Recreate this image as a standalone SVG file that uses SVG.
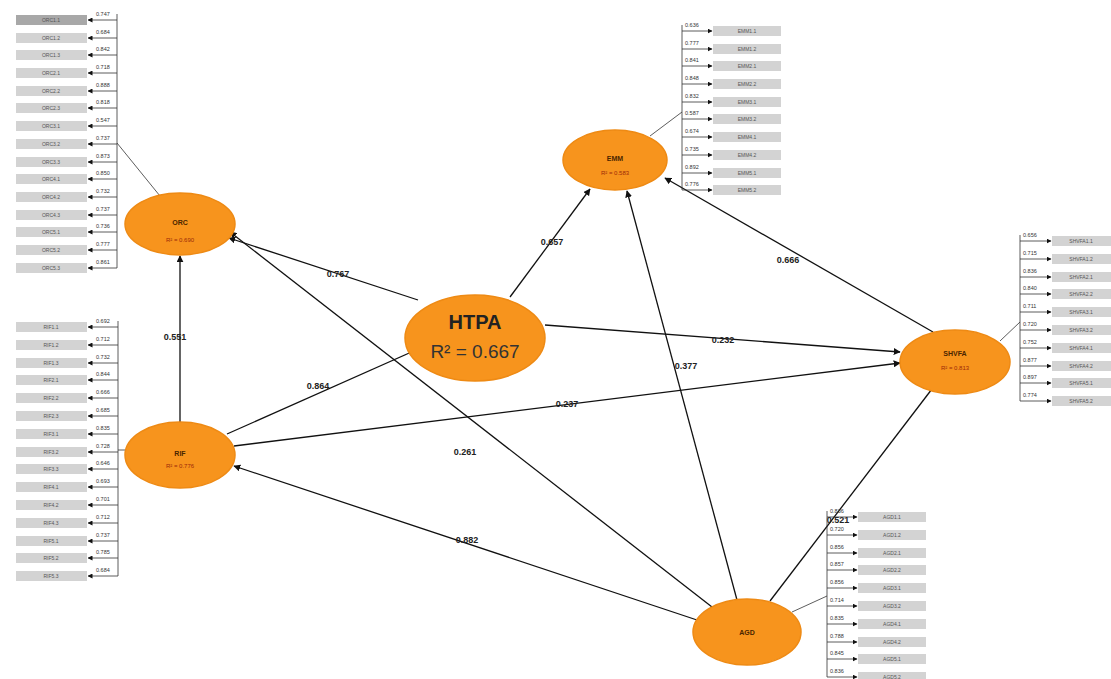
<svg xmlns="http://www.w3.org/2000/svg" width="1111" height="679" viewBox="0 0 1111 679">
<defs>
<marker id="ah" viewBox="0 0 10 10" refX="9" refY="5" markerWidth="7" markerHeight="7" orient="auto" markerUnits="userSpaceOnUse"><path d="M0,0 L10,5 L0,10 z" fill="#111"/></marker>
<marker id="as" viewBox="0 0 10 10" refX="9" refY="5" markerWidth="5" markerHeight="5" orient="auto" markerUnits="userSpaceOnUse"><path d="M0,0 L10,5 L0,10 z" fill="#111"/></marker>
<style>
.lv{fill:#f7941d;stroke:#ee8a14;stroke-width:1.5}
.box{fill:#d3d3d3}
.sel{fill:#a8a8a8}
.it{font-family:"Liberation Sans",Arial,sans-serif;font-size:5px;fill:#555;text-anchor:middle}
.v{font-family:"Liberation Sans",Arial,sans-serif;font-size:5.5px;fill:#333}
.br{stroke:#333;stroke-width:0.8;fill:none}
.ia{stroke:#333;stroke-width:0.8;fill:none;marker-end:url(#as)}
.pa{stroke:#111;stroke-width:1.3;fill:none;marker-end:url(#ah)}
.pl{font-family:"Liberation Sans",Arial,sans-serif;font-size:9px;font-weight:bold;fill:#222;text-anchor:middle}
.ln{font-family:"Liberation Sans",Arial,sans-serif;font-size:7px;font-weight:bold;fill:#4a2500;text-anchor:middle}
.lr{font-family:"Liberation Sans",Arial,sans-serif;font-size:6px;fill:#9c2a08;text-anchor:middle}
</style>
</defs>
<rect width="1111" height="679" fill="#ffffff"/>

<g id="connectors">
<path class="pa" d="M418,300 L229,238"/>
<path class="pa" d="M180,422 L180,256"/>
<path class="pa" d="M227,434 L416,350"/>
<path class="pa" d="M712,607 L230,232"/>
<path class="pa" d="M697,620 L234,466"/>
<path class="pa" d="M737,600 L627,191"/>
<path class="pa" d="M770,601 L935,385"/>
<path class="pa" d="M510,297 L590,189"/>
<path class="pa" d="M545,325 L900,352"/>
<path class="pa" d="M234,446 L900,363"/>
<path class="pa" d="M933,332 L665,178"/>
<text class="pl" x="338" y="277">0.767</text>
<text class="pl" x="175" y="340">0.551</text>
<text class="pl" x="318" y="389">0.864</text>
<text class="pl" x="465" y="455">0.261</text>
<text class="pl" x="467" y="543">0.882</text>
<text class="pl" x="686" y="369">0.377</text>
<text class="pl" x="838" y="523">0.521</text>
<text class="pl" x="552" y="245">0.657</text>
<text class="pl" x="723" y="343">0.232</text>
<text class="pl" x="567" y="407">0.237</text>
<text class="pl" x="788" y="263">0.666</text>
<path class="br" d="M117,143 L160,196"/>
<path class="br" d="M118,450 L126,450"/>
<path class="br" d="M682,112 L650,136"/>
<path class="br" d="M1020,322 L1000,341"/>
<path class="br" d="M827,596 L792,612"/>
</g>

<g id="ORC-indicators">
<path class="br" d="M117,14 V268"/>
<g><rect class="sel" x="16" y="15" width="71" height="10"/><text class="it" x="51" y="22">ORC1.1</text><path class="ia" d="M117,20 H88"/><text class="v" x="96" y="16">0.747</text></g>
<g><rect class="box" x="16" y="33" width="71" height="10"/><text class="it" x="51" y="40">ORC1.2</text><path class="ia" d="M117,38 H88"/><text class="v" x="96" y="34">0.684</text></g>
<g><rect class="box" x="16" y="50" width="71" height="10"/><text class="it" x="51" y="57">ORC1.3</text><path class="ia" d="M117,55 H88"/><text class="v" x="96" y="51">0.842</text></g>
<g><rect class="box" x="16" y="68" width="71" height="10"/><text class="it" x="51" y="75">ORC2.1</text><path class="ia" d="M117,73 H88"/><text class="v" x="96" y="69">0.718</text></g>
<g><rect class="box" x="16" y="86" width="71" height="10"/><text class="it" x="51" y="93">ORC2.2</text><path class="ia" d="M117,91 H88"/><text class="v" x="96" y="87">0.888</text></g>
<g><rect class="box" x="16" y="103" width="71" height="10"/><text class="it" x="51" y="110">ORC2.3</text><path class="ia" d="M117,108 H88"/><text class="v" x="96" y="104">0.818</text></g>
<g><rect class="box" x="16" y="121" width="71" height="10"/><text class="it" x="51" y="128">ORC3.1</text><path class="ia" d="M117,126 H88"/><text class="v" x="96" y="122">0.547</text></g>
<g><rect class="box" x="16" y="139" width="71" height="10"/><text class="it" x="51" y="146">ORC3.2</text><path class="ia" d="M117,144 H88"/><text class="v" x="96" y="140">0.737</text></g>
<g><rect class="box" x="16" y="157" width="71" height="10"/><text class="it" x="51" y="164">ORC3.3</text><path class="ia" d="M117,162 H88"/><text class="v" x="96" y="158">0.873</text></g>
<g><rect class="box" x="16" y="174" width="71" height="10"/><text class="it" x="51" y="181">ORC4.1</text><path class="ia" d="M117,179 H88"/><text class="v" x="96" y="175">0.850</text></g>
<g><rect class="box" x="16" y="192" width="71" height="10"/><text class="it" x="51" y="199">ORC4.2</text><path class="ia" d="M117,197 H88"/><text class="v" x="96" y="193">0.732</text></g>
<g><rect class="box" x="16" y="210" width="71" height="10"/><text class="it" x="51" y="217">ORC4.3</text><path class="ia" d="M117,215 H88"/><text class="v" x="96" y="211">0.737</text></g>
<g><rect class="box" x="16" y="227" width="71" height="10"/><text class="it" x="51" y="234">ORC5.1</text><path class="ia" d="M117,232 H88"/><text class="v" x="96" y="228">0.736</text></g>
<g><rect class="box" x="16" y="245" width="71" height="10"/><text class="it" x="51" y="252">ORC5.2</text><path class="ia" d="M117,250 H88"/><text class="v" x="96" y="246">0.777</text></g>
<g><rect class="box" x="16" y="263" width="71" height="10"/><text class="it" x="51" y="270">ORC5.3</text><path class="ia" d="M117,268 H88"/><text class="v" x="96" y="264">0.861</text></g>
</g>

<g id="RIF-indicators">
<path class="br" d="M118,321 V576"/>
<g><rect class="box" x="16" y="322" width="71" height="10"/><text class="it" x="51" y="329">RIF1.1</text><path class="ia" d="M118,327 H88"/><text class="v" x="96" y="323">0.692</text></g>
<g><rect class="box" x="16" y="340" width="71" height="10"/><text class="it" x="51" y="347">RIF1.2</text><path class="ia" d="M118,345 H88"/><text class="v" x="96" y="341">0.712</text></g>
<g><rect class="box" x="16" y="358" width="71" height="10"/><text class="it" x="51" y="365">RIF1.3</text><path class="ia" d="M118,363 H88"/><text class="v" x="96" y="359">0.732</text></g>
<g><rect class="box" x="16" y="375" width="71" height="10"/><text class="it" x="51" y="382">RIF2.1</text><path class="ia" d="M118,380 H88"/><text class="v" x="96" y="376">0.844</text></g>
<g><rect class="box" x="16" y="393" width="71" height="10"/><text class="it" x="51" y="400">RIF2.2</text><path class="ia" d="M118,398 H88"/><text class="v" x="96" y="394">0.666</text></g>
<g><rect class="box" x="16" y="411" width="71" height="10"/><text class="it" x="51" y="418">RIF2.3</text><path class="ia" d="M118,416 H88"/><text class="v" x="96" y="412">0.685</text></g>
<g><rect class="box" x="16" y="429" width="71" height="10"/><text class="it" x="51" y="436">RIF3.1</text><path class="ia" d="M118,434 H88"/><text class="v" x="96" y="430">0.835</text></g>
<g><rect class="box" x="16" y="447" width="71" height="10"/><text class="it" x="51" y="454">RIF3.2</text><path class="ia" d="M118,452 H88"/><text class="v" x="96" y="448">0.728</text></g>
<g><rect class="box" x="16" y="464" width="71" height="10"/><text class="it" x="51" y="471">RIF3.3</text><path class="ia" d="M118,469 H88"/><text class="v" x="96" y="465">0.646</text></g>
<g><rect class="box" x="16" y="482" width="71" height="10"/><text class="it" x="51" y="489">RIF4.1</text><path class="ia" d="M118,487 H88"/><text class="v" x="96" y="483">0.693</text></g>
<g><rect class="box" x="16" y="500" width="71" height="10"/><text class="it" x="51" y="507">RIF4.2</text><path class="ia" d="M118,505 H88"/><text class="v" x="96" y="501">0.701</text></g>
<g><rect class="box" x="16" y="518" width="71" height="10"/><text class="it" x="51" y="525">RIF4.3</text><path class="ia" d="M118,523 H88"/><text class="v" x="96" y="519">0.712</text></g>
<g><rect class="box" x="16" y="536" width="71" height="10"/><text class="it" x="51" y="543">RIF5.1</text><path class="ia" d="M118,541 H88"/><text class="v" x="96" y="537">0.737</text></g>
<g><rect class="box" x="16" y="553" width="71" height="10"/><text class="it" x="51" y="560">RIF5.2</text><path class="ia" d="M118,558 H88"/><text class="v" x="96" y="554">0.785</text></g>
<g><rect class="box" x="16" y="571" width="71" height="10"/><text class="it" x="51" y="578">RIF5.3</text><path class="ia" d="M118,576 H88"/><text class="v" x="96" y="572">0.684</text></g>
</g>

<g id="EMM-indicators">
<path class="br" d="M682,25 V190"/>
<g><rect class="box" x="713" y="26" width="68" height="10"/><text class="it" x="747" y="33">EMM1.1</text><path class="ia" d="M682,31 H712"/><text class="v" x="685" y="27">0.636</text></g>
<g><rect class="box" x="713" y="44" width="68" height="10"/><text class="it" x="747" y="51">EMM1.2</text><path class="ia" d="M682,49 H712"/><text class="v" x="685" y="45">0.777</text></g>
<g><rect class="box" x="713" y="61" width="68" height="10"/><text class="it" x="747" y="68">EMM2.1</text><path class="ia" d="M682,66 H712"/><text class="v" x="685" y="62">0.841</text></g>
<g><rect class="box" x="713" y="79" width="68" height="10"/><text class="it" x="747" y="86">EMM2.2</text><path class="ia" d="M682,84 H712"/><text class="v" x="685" y="80">0.848</text></g>
<g><rect class="box" x="713" y="97" width="68" height="10"/><text class="it" x="747" y="104">EMM3.1</text><path class="ia" d="M682,102 H712"/><text class="v" x="685" y="98">0.832</text></g>
<g><rect class="box" x="713" y="114" width="68" height="10"/><text class="it" x="747" y="121">EMM3.2</text><path class="ia" d="M682,119 H712"/><text class="v" x="685" y="115">0.587</text></g>
<g><rect class="box" x="713" y="132" width="68" height="10"/><text class="it" x="747" y="139">EMM4.1</text><path class="ia" d="M682,137 H712"/><text class="v" x="685" y="133">0.674</text></g>
<g><rect class="box" x="713" y="150" width="68" height="10"/><text class="it" x="747" y="157">EMM4.2</text><path class="ia" d="M682,155 H712"/><text class="v" x="685" y="151">0.735</text></g>
<g><rect class="box" x="713" y="168" width="68" height="10"/><text class="it" x="747" y="175">EMM5.1</text><path class="ia" d="M682,173 H712"/><text class="v" x="685" y="169">0.892</text></g>
<g><rect class="box" x="713" y="185" width="68" height="10"/><text class="it" x="747" y="192">EMM5.2</text><path class="ia" d="M682,190 H712"/><text class="v" x="685" y="186">0.776</text></g>
</g>

<g id="SHVFA-indicators">
<path class="br" d="M1020,235 V401"/>
<g><rect class="box" x="1052" y="236" width="59" height="10"/><text class="it" x="1081" y="243">SHVFA1.1</text><path class="ia" d="M1020,241 H1051"/><text class="v" x="1023" y="237">0.656</text></g>
<g><rect class="box" x="1052" y="254" width="59" height="10"/><text class="it" x="1081" y="261">SHVFA1.2</text><path class="ia" d="M1020,259 H1051"/><text class="v" x="1023" y="255">0.715</text></g>
<g><rect class="box" x="1052" y="272" width="59" height="10"/><text class="it" x="1081" y="279">SHVFA2.1</text><path class="ia" d="M1020,277 H1051"/><text class="v" x="1023" y="273">0.836</text></g>
<g><rect class="box" x="1052" y="289" width="59" height="10"/><text class="it" x="1081" y="296">SHVFA2.2</text><path class="ia" d="M1020,294 H1051"/><text class="v" x="1023" y="290">0.840</text></g>
<g><rect class="box" x="1052" y="307" width="59" height="10"/><text class="it" x="1081" y="314">SHVFA3.1</text><path class="ia" d="M1020,312 H1051"/><text class="v" x="1023" y="308">0.711</text></g>
<g><rect class="box" x="1052" y="325" width="59" height="10"/><text class="it" x="1081" y="332">SHVFA3.2</text><path class="ia" d="M1020,330 H1051"/><text class="v" x="1023" y="326">0.720</text></g>
<g><rect class="box" x="1052" y="343" width="59" height="10"/><text class="it" x="1081" y="350">SHVFA4.1</text><path class="ia" d="M1020,348 H1051"/><text class="v" x="1023" y="344">0.752</text></g>
<g><rect class="box" x="1052" y="361" width="59" height="10"/><text class="it" x="1081" y="368">SHVFA4.2</text><path class="ia" d="M1020,366 H1051"/><text class="v" x="1023" y="362">0.877</text></g>
<g><rect class="box" x="1052" y="378" width="59" height="10"/><text class="it" x="1081" y="385">SHVFA5.1</text><path class="ia" d="M1020,383 H1051"/><text class="v" x="1023" y="379">0.897</text></g>
<g><rect class="box" x="1052" y="396" width="59" height="10"/><text class="it" x="1081" y="403">SHVFA5.2</text><path class="ia" d="M1020,401 H1051"/><text class="v" x="1023" y="397">0.774</text></g>
</g>

<g id="AGD-indicators">
<path class="br" d="M827,511 V677"/>
<g><rect class="box" x="858" y="512" width="68" height="10"/><text class="it" x="892" y="519">AGD1.1</text><path class="ia" d="M827,517 H857"/><text class="v" x="830" y="513">0.836</text></g>
<g><rect class="box" x="858" y="530" width="68" height="10"/><text class="it" x="892" y="537">AGD1.2</text><path class="ia" d="M827,535 H857"/><text class="v" x="830" y="531">0.720</text></g>
<g><rect class="box" x="858" y="548" width="68" height="10"/><text class="it" x="892" y="555">AGD2.1</text><path class="ia" d="M827,553 H857"/><text class="v" x="830" y="549">0.856</text></g>
<g><rect class="box" x="858" y="565" width="68" height="10"/><text class="it" x="892" y="572">AGD2.2</text><path class="ia" d="M827,570 H857"/><text class="v" x="830" y="566">0.857</text></g>
<g><rect class="box" x="858" y="583" width="68" height="10"/><text class="it" x="892" y="590">AGD3.1</text><path class="ia" d="M827,588 H857"/><text class="v" x="830" y="584">0.856</text></g>
<g><rect class="box" x="858" y="601" width="68" height="10"/><text class="it" x="892" y="608">AGD3.2</text><path class="ia" d="M827,606 H857"/><text class="v" x="830" y="602">0.714</text></g>
<g><rect class="box" x="858" y="619" width="68" height="10"/><text class="it" x="892" y="626">AGD4.1</text><path class="ia" d="M827,624 H857"/><text class="v" x="830" y="620">0.835</text></g>
<g><rect class="box" x="858" y="637" width="68" height="10"/><text class="it" x="892" y="644">AGD4.2</text><path class="ia" d="M827,642 H857"/><text class="v" x="830" y="638">0.788</text></g>
<g><rect class="box" x="858" y="654" width="68" height="10"/><text class="it" x="892" y="661">AGD5.1</text><path class="ia" d="M827,659 H857"/><text class="v" x="830" y="655">0.845</text></g>
<g><rect class="box" x="858" y="672" width="68" height="10"/><text class="it" x="892" y="679">AGD5.2</text><path class="ia" d="M827,677 H857"/><text class="v" x="830" y="673">0.836</text></g>
</g>

<g id="ORC"><ellipse class="lv" cx="180" cy="224" rx="55" ry="31"/><text class="ln" x="180" y="225">ORC</text><text class="lr" x="180" y="242">R² = 0.690</text></g>
<g id="RIF"><ellipse class="lv" cx="180" cy="455" rx="55" ry="33"/><text class="ln" x="180" y="456">RIF</text><text class="lr" x="180" y="468">R² = 0.776</text></g>
<g id="EMM"><ellipse class="lv" cx="615" cy="160" rx="52" ry="30"/><text class="ln" x="615" y="161">EMM</text><text class="lr" x="615" y="175">R² = 0.583</text></g>
<g id="HTPA"><ellipse class="lv" cx="475" cy="338" rx="70" ry="43"/><text x="475" y="329" font-family="Liberation Sans, Arial, sans-serif" font-size="20" font-weight="bold" fill="#222" text-anchor="middle">HTPA</text><text x="475" y="358" font-family="Liberation Sans, Arial, sans-serif" font-size="19" fill="#333" text-anchor="middle">R² = 0.667</text></g>
<g id="SHVFA"><ellipse class="lv" cx="955" cy="362" rx="55" ry="32"/><text class="ln" x="955" y="356">SHVFA</text><text class="lr" x="955" y="370">R² = 0.813</text></g>
<g id="AGD"><ellipse class="lv" cx="747" cy="632" rx="54" ry="33"/><text class="ln" x="747" y="635">AGD</text></g>
</svg>
